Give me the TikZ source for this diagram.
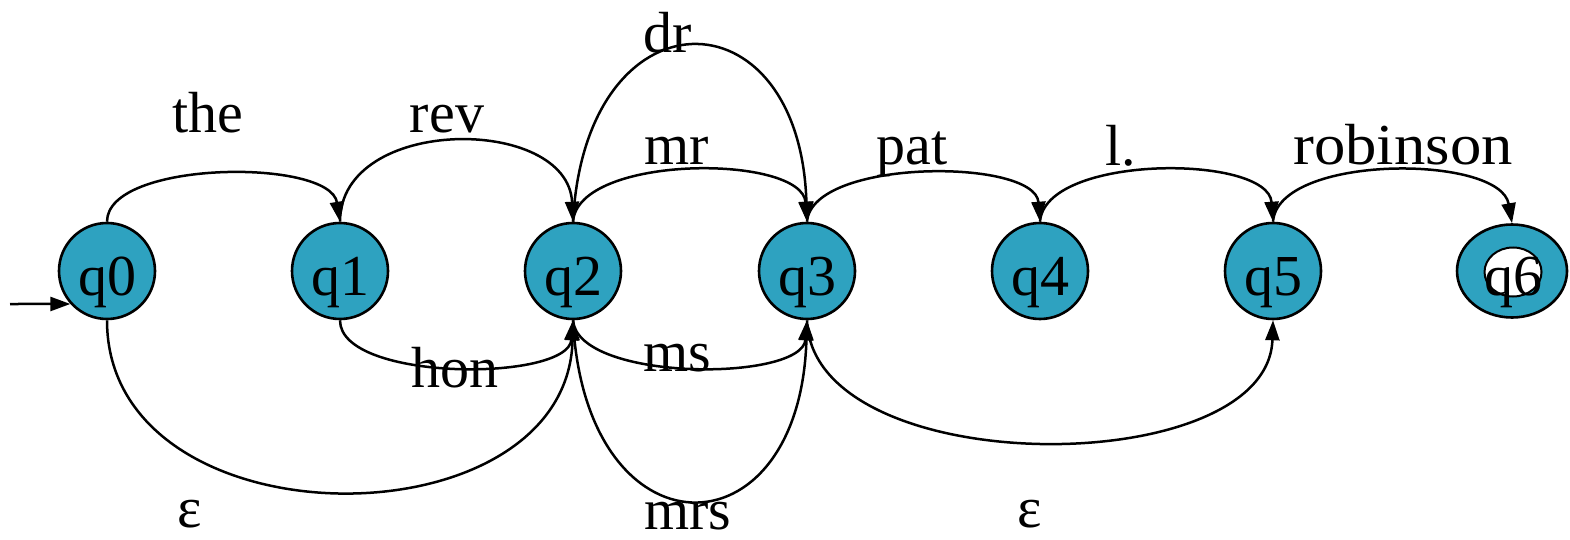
\documentclass[tikz,border=0pt]{standalone}
\usepackage{fontspec}
\setmainfont{Liberation Serif}
\usetikzlibrary{arrows.meta,shapes.geometric}
\definecolor{stfill}{RGB}{46,162,192}
\tikzset{
  state/.style={circle,draw=black,fill=stfill,line width=2.6pt,minimum size=96pt,inner sep=0pt,
    font=\fontsize{58}{60}\selectfont,text height=48pt,text depth=0pt},
  lbl/.style={anchor=base,inner sep=0pt,font=\fontsize{58}{60}\selectfont},
  edge/.style={line width=2.5pt,-{Triangle[length=20pt,width=14pt]}}
}
\begin{document}
\begin{tikzpicture}[x=1pt,y=-1pt]
\useasboundingbox (0,0) rectangle (1570,540);
\node[state] (q0) at (107,271) {q0};
\node[state] (q1) at (340,271) {q1};
\node[state] (q2) at (573,271) {q2};
\node[state] (q3) at (807,271) {q3};
\node[state] (q4) at (1040,271) {q4};
\node[state] (q5) at (1273,271) {q5};
\node[state,ellipse,minimum width=110pt,minimum height=93pt] (q6) at (1512,271) {};
\node[ellipse,draw=black,fill=white,line width=2pt,minimum width=57pt,minimum height=49pt,inner sep=0pt] (q6in) at (1513,272) {};
\node[lbl] (q6t) at (1513,295) {q6};
\coordinate (start) at (10,304);
\draw[edge] (start) -- (q0.222);
% top edges
\draw[edge] (q0.north) .. controls (107,160) and (330,158) .. (q1.north);
\draw[edge] (q1.north) .. controls (340,115) and (568,115) .. (q2.north);
\draw[edge] (q2.north) .. controls (578,154) and (802,154) .. (q3.north);
\draw[edge] (q2.north) .. controls (585,-12) and (800,-12) .. (q3.north);
\draw[edge] (q3.north) .. controls (812,158) and (1035,158) .. (q4.north);
\draw[edge] (q4.north) .. controls (1045,154) and (1268,154) .. (q5.north);
\draw[edge] (q5.north) .. controls (1278,154) and (1500,154) .. (q6.north);
% bottom edges
\draw[edge] (q1.south) .. controls (340,382) and (568,382) .. (q2.south);
\draw[edge] (q2.south) .. controls (578,382) and (802,382) .. (q3.south);
\draw[edge] (q2.south) .. controls (585,560) and (800,560) .. (q3.south);
\draw[edge] (q0.south) .. controls (107,548) and (568,548) .. (q2.south);
\draw[edge] (q3.south) .. controls (812,482) and (1268,482) .. (q5.south);
% labels
\node[lbl] (lthe) at (208,133) {the};
\node[lbl] (lrev) at (447,133) {rev};
\node[lbl] (lmr) at (677,165) {mr};
\node[lbl] (ldr) at (668,53) {dr};
\node[lbl] (lpat) at (912,165) {pat};
\node[lbl] (ll) at (1121,166) {l.};
\node[lbl] (lrob) at (1403,165) {\scalebox{1.08}[1]{robinson}};
\node[lbl] (lhon) at (455,387) {hon};
\node[lbl] (lms) at (677,371) {ms};
\node[lbl] (lmrs) at (688,529) {mrs};
\node[lbl] (leps1) at (190,527) {ε};
\node[lbl] (leps2) at (1030,527) {ε};
\end{tikzpicture}
\end{document}
